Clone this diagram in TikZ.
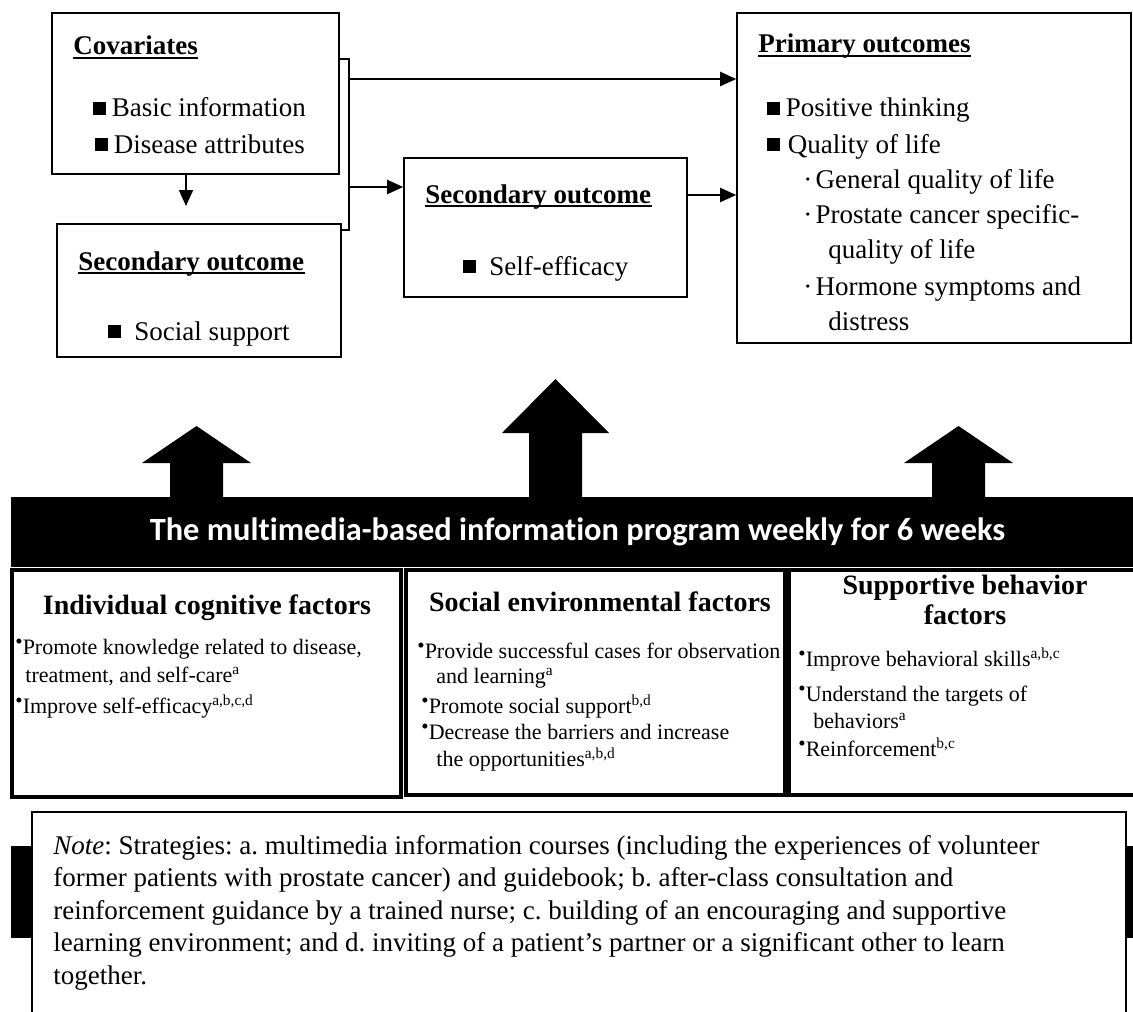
\documentclass[tikz,border=0pt]{standalone}
\usepackage{fontspec}
\setmainfont{Liberation Serif}
\newfontfamily\bannerfont{Carlito}[Ligatures=NoCommon]
\usetikzlibrary{arrows.meta,positioning,fit,calc}
\frenchspacing

% font sizes
\newcommand{\bodysize}{\fontsize{13.5pt}{16.25pt}\selectfont}
\newcommand{\itemsize}{\fontsize{11pt}{13pt}\selectfont}
\newcommand{\factsize}{\fontsize{14pt}{16pt}\selectfont}
\newcommand{\bannersize}{\bannerfont\bfseries\fontsize{16.2pt}{18pt}\selectfont}
% bullets
\newcommand{\sqbul}{\rule[0.07em]{0.48em}{0.48em}}
\newcommand{\dotbul}{\raisebox{2.6pt}{\fontsize{10.5pt}{10pt}\selectfont\textbullet}}
\newcommand{\midbul}{\makebox[0.45em][l]{\textperiodcentered}}

\begin{document}
\begin{tikzpicture}[x=0.5pt,y=-0.5pt,
	box/.style={draw,line width=0.8pt,inner sep=0pt},
	factorbox/.style={draw,line width=1.8pt,inner sep=0pt},
	txt/.style={anchor=base west,inner sep=0pt,font=\bodysize},
	headtxt/.style={anchor=base west,inner sep=0pt,font=\bodysize\bfseries},
	ftitle/.style={anchor=base,inner sep=0pt,font=\factsize\bfseries},
	fitem/.style={anchor=base west,inner sep=0pt,font=\itemsize},
	link/.style={line width=1pt},
	arr/.style={link,-{Triangle[length=8pt,width=7pt]}},
	ul/.style={line width=1pt}]
	\useasboundingbox (0,0) rectangle (1133,1011);

	% outcome boxes
	\node[box,fit={(52,13) (339,174)}] (cov) {};
	\node[box,fit={(57,224) (341,357)}] (soc) {};
	\node[box,fit={(404,158) (687,297)}] (self) {};
	\node[box,fit={(737,13) (1131,343)}] (prim) {};

	\node[headtxt] (covt) at (73,55) {Covariates\hspace{0.55em}};
	\node[txt] (covA) at (93,117) {\sqbul\hspace{0.2em}Basic information};
	\node[txt] (covB) at (95,153) {\sqbul\hspace{0.2em}Disease attributes};

	\node[headtxt] (soct) at (78,270) {Secondary outcome};
	\node[txt] (socA) at (108,340) {\sqbul\hspace{0.48em}Social support};

	\node[headtxt] (selft) at (425,203) {Secondary outcome};
	\node[txt] (selfA) at (463,275) {\sqbul\hspace{0.48em}Self-efficacy};

	\node[headtxt] (primt) at (758,53) {Primary outcomes};
	\node[txt] (primA) at (767,117) {\sqbul\hspace{0.2em}Positive thinking};
	\node[txt] (primB) at (767,153) {\sqbul\hspace{0.28em}Quality of life};
	\node[txt] (primB1) at (803,188) {\midbul General quality of life};
	\node[txt] (primB2) at (803,223) {\midbul Prostate cancer specific-};
	\node[txt] (primB2b) at (828,258) {quality of life};
	\node[txt] (primB3) at (803,295) {\midbul Hormone symptoms and};
	\node[txt] (primB3b) at (828,330) {distress};

	\foreach \t in {covt,soct,selft,primt}
		\draw[ul] ([yshift=-1.7pt]\t.base west) -- ([yshift=-1.7pt]\t.base east);

	% connectors
	\coordinate (brTop) at (349,59);
	\coordinate (brBot) at (349,230);
	\coordinate (brA) at (349,79);
	\coordinate (brB) at (349,187);
	\coordinate (covEnd) at (186,206);
	\draw[link] (cov.east |- brTop) -- (brTop) -- (brBot) -- (soc.east |- brBot);
	\draw[arr] (brA) -- (prim.west |- brA);
	\draw[arr] (brB) -- (self.west |- brB);
	\draw[arr] (self.east |- 0,195) -- (prim.west |- 0,195);
	\draw[arr] (cov.south -| covEnd) -- (covEnd);

	% program banner with the three block arrows
	\foreach \cx/\tip/\hb/\hw in {196.5/426/463/54.5, 555.5/379/433/53.5, 958.5/426/463/54.5}
		\fill (\cx-26.5,500) -- (\cx-26.5,\hb) -- (\cx-\hw,\hb) -- (\cx,\tip)
			-- (\cx+\hw,\hb) -- (\cx+26.5,\hb) -- (\cx+26.5,500) -- cycle;
	\node[fill=black,inner sep=0pt,fit={(11,497) (1133,567)}] (banner) {};
	\node[anchor=base,inner sep=0pt,text=white,font=\bannersize] (bannert) at (577.5,540)
		{The multimedia-based information program weekly for 6 weeks};

	% factor boxes
	\node[factorbox,fit={(12,570) (401,797)}] (cog) {};
	\node[factorbox,fit={(406,570) (785,795)}] (envf) {};
	\node[factorbox,fit={(789,570) (1145,795)}] (beh) {};

	\node[ftitle] (cogt) at (207,614) {Individual cognitive factors};
	\node[fitem] (cogA) at (15,654) {\dotbul Promote knowledge related to disease,};
	\node[fitem] (cogAb) at (25,682) {treatment, and self-care\textsuperscript{a}};
	\node[fitem] (cogB) at (15,713) {\dotbul Improve self-efficacy\textsuperscript{a,b,c,d}};

	\node[ftitle] (envt) at (600,611) {Social environmental factors};
	\node[fitem] (envA) at (417,658) {\dotbul Provide successful cases for observation};
	\node[fitem] (envAb) at (436,683) {and learning\textsuperscript{a}};
	\node[fitem] (envB) at (421,713) {\dotbul Promote social support\textsuperscript{b,d}};
	\node[fitem] (envC) at (421,739) {\dotbul Decrease the barriers and increase};
	\node[fitem] (envCb) at (436,766) {the opportunities\textsuperscript{a,b,d}};

	\node[ftitle] (beht) at (965,594) {Supportive behavior};
	\node[ftitle] (behtb) at (965,624) {factors};
	\node[fitem] (behA) at (798,666) {\dotbul Improve behavioral skills\textsuperscript{a,b,c}};
	\node[fitem] (behB) at (798,701) {\dotbul Understand the targets of};
	\node[fitem] (behBb) at (813,728) {behaviors\textsuperscript{a}};
	\node[fitem] (behC) at (798,756) {\dotbul Reinforcement\textsuperscript{b,c}};

	% note
	\node[fill=black,inner sep=0pt,fit={(11,846) (1133,938)}] (notebar) {};
	\node[box,fill=white,fit={(32,812) (1126,1016)}] (note) {};
	\node[txt,align=left] (notet) at (53,984)
		{\textit{Note}: Strategies: a. multimedia information courses (including the experiences of volunteer\\
		former patients with prostate cancer) and guidebook; b. after-class consultation and\\
		reinforcement guidance by a trained nurse; c. building of an encouraging and supportive\\
		learning environment; and d. inviting of a patient’s partner or a significant other to learn\\
		together.};
\end{tikzpicture}
\end{document}
